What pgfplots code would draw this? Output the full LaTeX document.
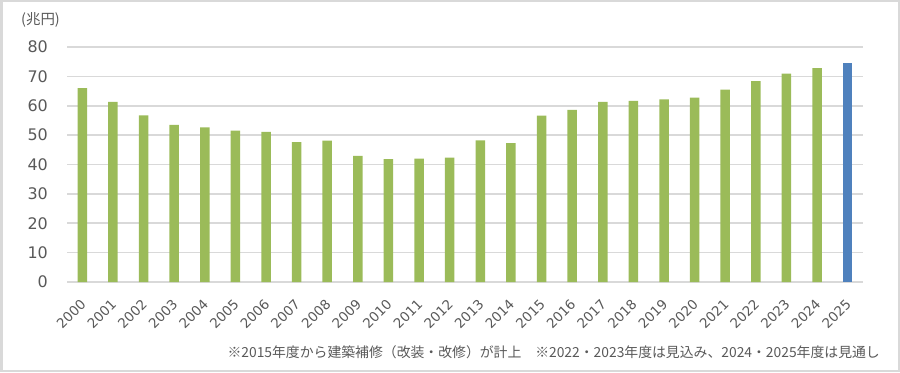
\documentclass[border=0pt]{standalone}
\usepackage{fontspec}
\usepackage{pgfplots}
\pgfplotsset{compat=1.18}
\setmainfont{DejaVu Sans}
\newfontfamily\jp{Noto Sans CJK JP}
\definecolor{grn}{HTML}{9BBB59}
\definecolor{blu}{HTML}{4F81BD}
\definecolor{txt}{HTML}{595959}
\definecolor{grd}{HTML}{D9D9D9}
\begin{document}
\begin{tikzpicture}[x=1bp,y=1bp]
\useasboundingbox (0,0) rectangle (900,372);
\draw[grd, line width=2bp] (1.5,1.5) rectangle (898.5,370.5);
\node[anchor=west, text=txt, font=\jp\fontsize{14.5}{14.5}\selectfont, inner sep=0] at (21,352) {(兆円)};
\begin{axis}[
  at={(67bp,90bp)}, anchor=south west,
  scale only axis, width=796bp, height=235bp,
  xmin=-0.5, xmax=25.5, ymin=0, ymax=80,
  axis line style={draw=none},
  ymajorgrids, grid style={grd, line width=1.6bp},
  ytick={0,10,...,80},
  xtick={0,...,25},
  xticklabels={2000,2001,2002,2003,2004,2005,2006,2007,2008,2009,2010,2011,2012,2013,2014,2015,2016,2017,2018,2019,2020,2021,2022,2023,2024,2025},
  major tick length=0pt,
  tick style={draw=none},
  /pgf/number format/assume math mode=true,
  tick label style={text=txt},
  yticklabel style={font=\fontsize{16}{16}\selectfont, inner sep=0pt, xshift=-19bp},
  xticklabel style={font=\fontsize{13.5}{13.5}\selectfont, inner sep=0pt, yshift=-20bp, xshift=1bp, rotate=45, anchor=east},
  clip=false,
]
\addplot[ybar, bar width=9.5bp, bar shift=0pt, fill=grn, draw=none] coordinates {
(0,66.0) (1,61.3) (2,56.7) (3,53.5) (4,52.6) (5,51.5) (6,51.1) (7,47.6) (8,48.1) (9,42.9)
(10,41.8) (11,42.0) (12,42.3) (13,48.2) (14,47.3) (15,56.6) (16,58.6) (17,61.3) (18,61.7)
(19,62.2) (20,62.8) (21,65.5) (22,68.4) (23,70.9) (24,72.8)};
\addplot[ybar, bar width=9.5bp, bar shift=0pt, fill=blu, draw=none] coordinates {(25,74.7)};
\end{axis}
\node[anchor=east, text=txt, font=\jp\fontsize{13.9}{13.9}\selectfont, inner sep=0] at (880,20) {※2015年度から建築補修（改装・改修）が計上　※2022・2023年度は見込み、2024・2025年度は見通し};
\end{tikzpicture}
\end{document}
